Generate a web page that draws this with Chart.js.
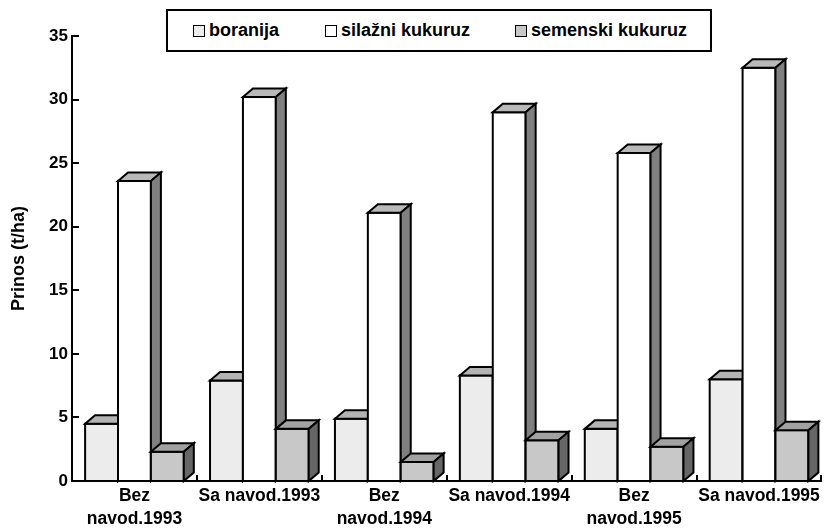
<!DOCTYPE html>
<html>
<head>
<meta charset="utf-8">
<script src="https://cdn.jsdelivr.net/npm/chart.js@4.4.1/dist/chart.umd.min.js"></script>
<style>
html,body{margin:0;padding:0;background:#fff;}
#wrap{position:relative;width:824px;height:529px;overflow:hidden;}
#c{position:absolute;left:0;top:0;}
#legend{position:absolute;left:166px;top:9px;width:542px;height:39px;border:2px solid #000;background:#fff;
  font-family:"Liberation Sans",Arial,Helvetica,sans-serif;font-weight:bold;font-size:18px;color:#000;}
#legend .item{position:absolute;top:0;height:39px;line-height:39px;white-space:nowrap;}
#legend .sw{display:inline-block;width:10px;height:10px;border:1.5px solid #000;margin-right:4px;vertical-align:-1px;}
</style>
</head>
<body>
<div id="wrap">
<canvas id="c" width="824" height="529"></canvas>
<div id="legend"></div>
</div>
<script>
// ---- data ----
const categories = [["Bez", "navod.1993"], "Sa navod.1993", ["Bez", "navod.1994"], "Sa navod.1994", ["Bez", "navod.1995"], "Sa navod.1995"];
const seriesNames = ["boranija", "silažni kukuruz", "semenski kukuruz"];
const boranija = [4.5, 7.9, 4.9, 8.3, 4.1, 8.0];
const silazniKukuruz = [23.6, 30.2, 21.1, 29.0, 25.8, 32.5];
const semenskiKukuruz = [2.3, 4.1, 1.5, 3.2, 2.7, 4.0];
const yTickValues = [0, 5, 10, 15, 20, 25, 30, 35];
const yTitle = "Prinos (t/ha)";

// ---- styles ----
const frontColors = ["#ececec", "#ffffff", "#c8c8c8"];
const topColors = ["#b4b4b4", "#b9b9b9", "#a2a2a2"];
const sideColors = ["#7a7a7a", "#808080", "#666666"];
const DX = 10, DY = 8.5;
const FONT = '"Liberation Sans", Arial, Helvetica, sans-serif';

// legend (HTML)
const legendPos = [25, 157, 347];
const legend = document.getElementById('legend');
seriesNames.forEach((name, i) => {
  const d = document.createElement('div');
  d.className = 'item';
  d.style.left = legendPos[i] + 'px';
  const sw = document.createElement('span');
  sw.className = 'sw';
  sw.style.background = frontColors[i];
  d.appendChild(sw);
  d.appendChild(document.createTextNode(name));
  legend.appendChild(d);
});

const bars3d = {
  id: 'bars3d',
  afterDatasetsDraw(chart) {
    const ctx = chart.ctx;
    const metas = chart.data.datasets.map((_, i) => chart.getDatasetMeta(i));
    ctx.save();
    ctx.lineWidth = 2;
    ctx.strokeStyle = '#000';
    ctx.lineJoin = 'miter';
    for (let j = 0; j < categories.length; j++) {
      metas.forEach((meta, i) => {
        const el = meta.data[j];
        const l = el.x - el.width / 2, r = el.x + el.width / 2;
        const t = el.y, b = el.base;
        // front
        ctx.fillStyle = frontColors[i];
        ctx.fillRect(l, t, r - l, b - t);
        ctx.strokeRect(l, t, r - l, b - t);
        // top
        ctx.beginPath();
        ctx.moveTo(l, t); ctx.lineTo(l + DX, t - DY); ctx.lineTo(r + DX, t - DY); ctx.lineTo(r, t); ctx.closePath();
        ctx.fillStyle = topColors[i]; ctx.fill(); ctx.stroke();
        // side
        ctx.beginPath();
        ctx.moveTo(r, t); ctx.lineTo(r + DX, t - DY); ctx.lineTo(r + DX, b - DY); ctx.lineTo(r, b); ctx.closePath();
        ctx.fillStyle = sideColors[i]; ctx.fill(); ctx.stroke();
      });
    }
    // inner tick marks
    const ys = chart.scales.y, xs = chart.scales.x, area = chart.chartArea;
    ctx.beginPath();
    yTickValues.forEach(v => {
      const py = Math.round(ys.getPixelForValue(v));
      ctx.moveTo(area.left, py); ctx.lineTo(area.left + 7, py);
    });
    const step = xs.getPixelForValue(1) - xs.getPixelForValue(0);
    for (let k = 1; k <= categories.length; k++) {
      const px = Math.round(xs.getPixelForValue(k - 1) + step / 2);
      ctx.moveTo(px, area.bottom); ctx.lineTo(px, area.bottom - 6);
    }
    ctx.stroke();
    // axes lines redrawn
    ctx.beginPath();
    ctx.moveTo(area.left, area.top); ctx.lineTo(area.left, area.bottom);
    ctx.lineTo(area.right, area.bottom);
    ctx.stroke();
    ctx.restore();
  }
};

new Chart(document.getElementById('c'), {
  type: 'bar',
  data: {
    labels: categories,
    datasets: [
      { label: seriesNames[0], data: boranija, backgroundColor: frontColors[0] },
      { label: seriesNames[1], data: silazniKukuruz, backgroundColor: frontColors[1] },
      { label: seriesNames[2], data: semenskiKukuruz, backgroundColor: frontColors[2] }
    ]
  },
  options: {
    responsive: false,
    animation: false,
    events: [],
    layout: { padding: { top: 36, right: 2, left: 0, bottom: 0 } },
    datasets: { bar: { categoryPercentage: 0.79, barPercentage: 1.0, borderWidth: 0 } },
    plugins: { legend: { display: false }, tooltip: { enabled: false } },
    scales: {
      x: {
        grid: { display: false, drawTicks: false },
        border: { display: true, color: '#000', width: 2 },
        ticks: { color: '#000', padding: 4, maxRotation: 0, autoSkip: false,
                 font: { family: FONT, size: 17.5, weight: 'bold', lineHeight: 1.32 } },
        afterFit(s) { s.height = 48; }
      },
      y: {
        min: 0, max: 35,
        afterBuildTicks(s) { s.ticks = yTickValues.map(v => ({ value: v })); },
        grid: { display: false, drawTicks: false },
        border: { display: true, color: '#000', width: 2 },
        ticks: { color: '#000', padding: 4, font: { family: FONT, size: 17, weight: 'bold' } },
        title: { display: true, text: yTitle, color: '#000', padding: { top: 8, bottom: 0 },
                 font: { family: FONT, size: 18, weight: 'bold' } },
        afterFit(s) { s.width = 72; }
      }
    }
  },
  plugins: [bars3d]
});
</script>
</body>
</html>
